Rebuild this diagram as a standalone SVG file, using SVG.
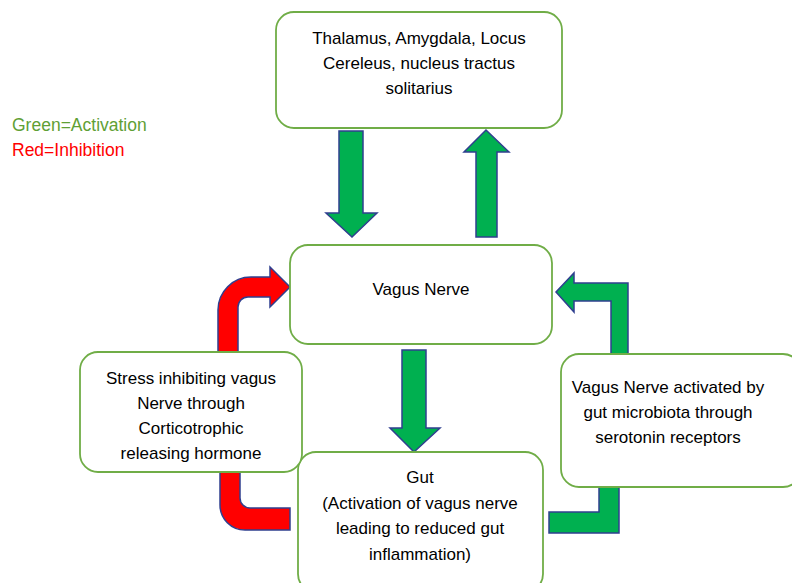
<svg xmlns="http://www.w3.org/2000/svg" width="792" height="583" viewBox="0 0 792 583">
<style>
.box{fill:#fff;stroke:#70AD47;stroke-width:1.8}
.t{font-family:"Liberation Sans",Arial,sans-serif;font-size:17px;fill:#000;text-anchor:middle}
.g{fill:#00B050;stroke:#2F3F8F;stroke-width:1.5;stroke-linejoin:miter}
.r{fill:#FF0000;stroke:#2F3F8F;stroke-width:1.5}
.lg{font-family:"Liberation Sans",Arial,sans-serif;font-size:17.5px}
</style>
<rect width="792" height="583" fill="#fff"/>
<g id="connectors">
<path class="g" d="M339,131 H363 V213 H377 L352,237 L326,213 H339 Z"/>
<path class="g" d="M476,237 V152 H464 L486,130 L509,152 H497 V237 Z"/>
<path class="g" d="M402,350 H426 V428 H440 L414,452 L390,428 H402 Z"/>
<path class="r" d="M218,370 V310 A33,33 0 0 1 251,277 H270 V267 L290,287 L270,307 V297 H248 A10,10 0 0 0 238,307 V370 Z"/>
<path class="r" d="M220,470 V505 A25,25 0 0 0 245,530 H290 V508 H250 A10,10 0 0 1 240,498 V470 Z"/>
<path class="g" d="M611,365 V301 H574 V312 L556,292 L574,273 V283 H628 V365 Z"/>
<path class="g" d="M599,470 V512 H549 V533 H619 V470 Z"/>
</g>
<g id="legend">
<text class="lg" x="12" y="131" fill="#5FA035">Green=Activation</text>
<text class="lg" x="12" y="156" fill="#FF0000">Red=Inhibition</text>
</g>
<g id="top">
<rect class="box" x="276" y="12" width="286" height="116" rx="18"/>
<text class="t" x="419" y="44">Thalamus, Amygdala, Locus</text>
<text class="t" x="419" y="69">Cereleus, nucleus tractus</text>
<text class="t" x="419" y="94">solitarius</text>
</g>
<g id="vagus">
<rect class="box" x="290" y="245" width="262" height="99" rx="18"/>
<text class="t" x="421" y="295">Vagus Nerve</text>
</g>
<g id="gut">
<rect class="box" x="298" y="452" width="245" height="140" rx="18"/>
<text class="t" x="420" y="483">Gut</text>
<text class="t" x="420" y="509">(Activation of vagus nerve</text>
<text class="t" x="420" y="534">leading to reduced gut</text>
<text class="t" x="420" y="560">inflammation)</text>
</g>
<g id="stress">
<rect class="box" x="80" y="352" width="222" height="120" rx="18"/>
<text class="t" x="191" y="384">Stress inhibiting vagus</text>
<text class="t" x="191" y="409">Nerve through</text>
<text class="t" x="191" y="434">Corticotrophic</text>
<text class="t" x="191" y="459">releasing hormone</text>
</g>
<g id="microbiota">
<rect class="box" x="561" y="354" width="240" height="133" rx="18"/>
<text class="t" x="668" y="393">Vagus Nerve activated by</text>
<text class="t" x="668" y="418">gut microbiota through</text>
<text class="t" x="668" y="443">serotonin receptors</text>
</g>
</svg>
